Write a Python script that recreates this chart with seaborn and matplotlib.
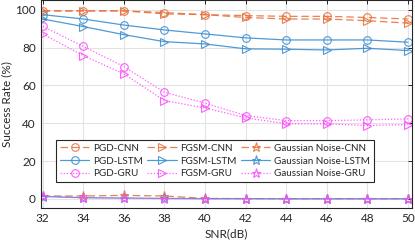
import numpy as np
import pandas as pd
import seaborn as sns
import matplotlib as mpl
import matplotlib.pyplot as plt

mpl.use('Agg')

snr = [32, 34, 36, 38, 40, 42, 44, 46, 48, 50]

pgd_cnn = [99.5, 99.5, 99.5, 98.6, 97.5, 97.0, 96.6, 96.6, 96.0, 95.2]
pgd_lstm = [97.5, 95.2, 92.0, 89.4, 87.3, 85.2, 84.1, 84.1, 84.1, 82.9]
pgd_gru = [91.3, 80.7, 70.0, 56.4, 50.6, 44.1, 41.4, 41.4, 41.8, 42.3]
fgsm_cnn = [99.5, 99.5, 99.5, 97.9, 97.5, 96.0, 95.2, 95.2, 94.3, 93.0]
fgsm_lstm = [95.2, 91.2, 86.9, 83.2, 82.0, 79.4, 79.2, 78.8, 79.7, 78.5]
fgsm_gru = [87.3, 75.8, 66.1, 52.0, 48.1, 42.9, 39.7, 39.7, 38.8, 39.3]
gauss_cnn = [1.5, 1.5, 1.8, 1.5, 0.2, 0.1, 0.1, 0.1, 0.1, 0.1]
gauss_lstm = [1.2, 0.6, 0.4, 0.2, 0.1, 0.1, 0.0, 0.0, 0.0, 0.0]
gauss_gru = [1.5, 0.5, 0.3, 0.1, 0.0, 0.0, 0.0, 0.0, 0.0, 0.0]

labels = ['PGD-CNN', 'PGD-LSTM', 'PGD-GRU',
          'FGSM-CNN', 'FGSM-LSTM', 'FGSM-GRU',
          'Gaussian Noise-CNN', 'Gaussian Noise-LSTM', 'Gaussian Noise-GRU']
values = [pgd_cnn, pgd_lstm, pgd_gru,
          fgsm_cnn, fgsm_lstm, fgsm_gru,
          gauss_cnn, gauss_lstm, gauss_gru]

orange = '#E8733F'
blue = '#3D8FD1'
pink = '#FF4DFF'
model_style = {'CNN': (orange, (0, (6, 3))),
               'LSTM': (blue, '-'),
               'GRU': (pink, (0, (1, 1.5)))}
attack_marker = {'PGD': 'o', 'FGSM': '>', 'Gaussian Noise': '*'}

sns.set_style('white')
plt.rcParams['font.family'] = ['Lato', 'DejaVu Sans']

fig = plt.figure(figsize=(4.15, 2.43), dpi=100)
ax = fig.add_axes([0.098, 0.143, 0.895, 0.855])

for lab, vals in zip(labels, values):
    attack, model = lab.rsplit('-', 1)
    color, ls = model_style[model]
    df = pd.DataFrame({'SNR': snr, 'rate': vals})
    sns.lineplot(data=df, x='SNR', y='rate', ax=ax, label=lab,
                 color=color, linestyle=ls, linewidth=0.9,
                 marker=attack_marker[attack],
                 markersize=6.5 if attack == 'Gaussian Noise' else 5.5,
                 markerfacecolor='none', markeredgecolor=color,
                 markeredgewidth=0.8, alpha=0.9)

ax.set_xlim(31.9, 50.2)
ax.set_ylim(-5, 105)
ax.set_xticks(snr)
ax.set_yticks([0, 20, 40, 60, 80, 100])
ax.grid(True, color='#E3E3E3', linewidth=0.8)
ax.set_axisbelow(True)
for s in ax.spines.values():
    s.set_color('#262626')
    s.set_linewidth(0.8)
ax.tick_params(direction='in', top=True, right=True, length=3,
               labelsize=8.5, colors='#262626', width=0.7)
ax.set_xlabel('SNR(dB)', fontsize=8.5, color='#262626', labelpad=3)
ax.set_ylabel('Success Rate (%)', fontsize=8.5, color='#262626', labelpad=2)

ax.legend(ncol=3, loc='center', bbox_to_anchor=(215 / 415, 1 - 161 / 243),
          bbox_transform=fig.transFigure,
          fontsize=7.1, frameon=True, fancybox=False, edgecolor='#262626',
          framealpha=1, handlelength=3.0, handletextpad=0.4, columnspacing=0.4,
          labelspacing=0.4, borderpad=0.4)
ax.get_legend().get_frame().set_linewidth(0.8)

fig.savefig('out.png', dpi=100)
